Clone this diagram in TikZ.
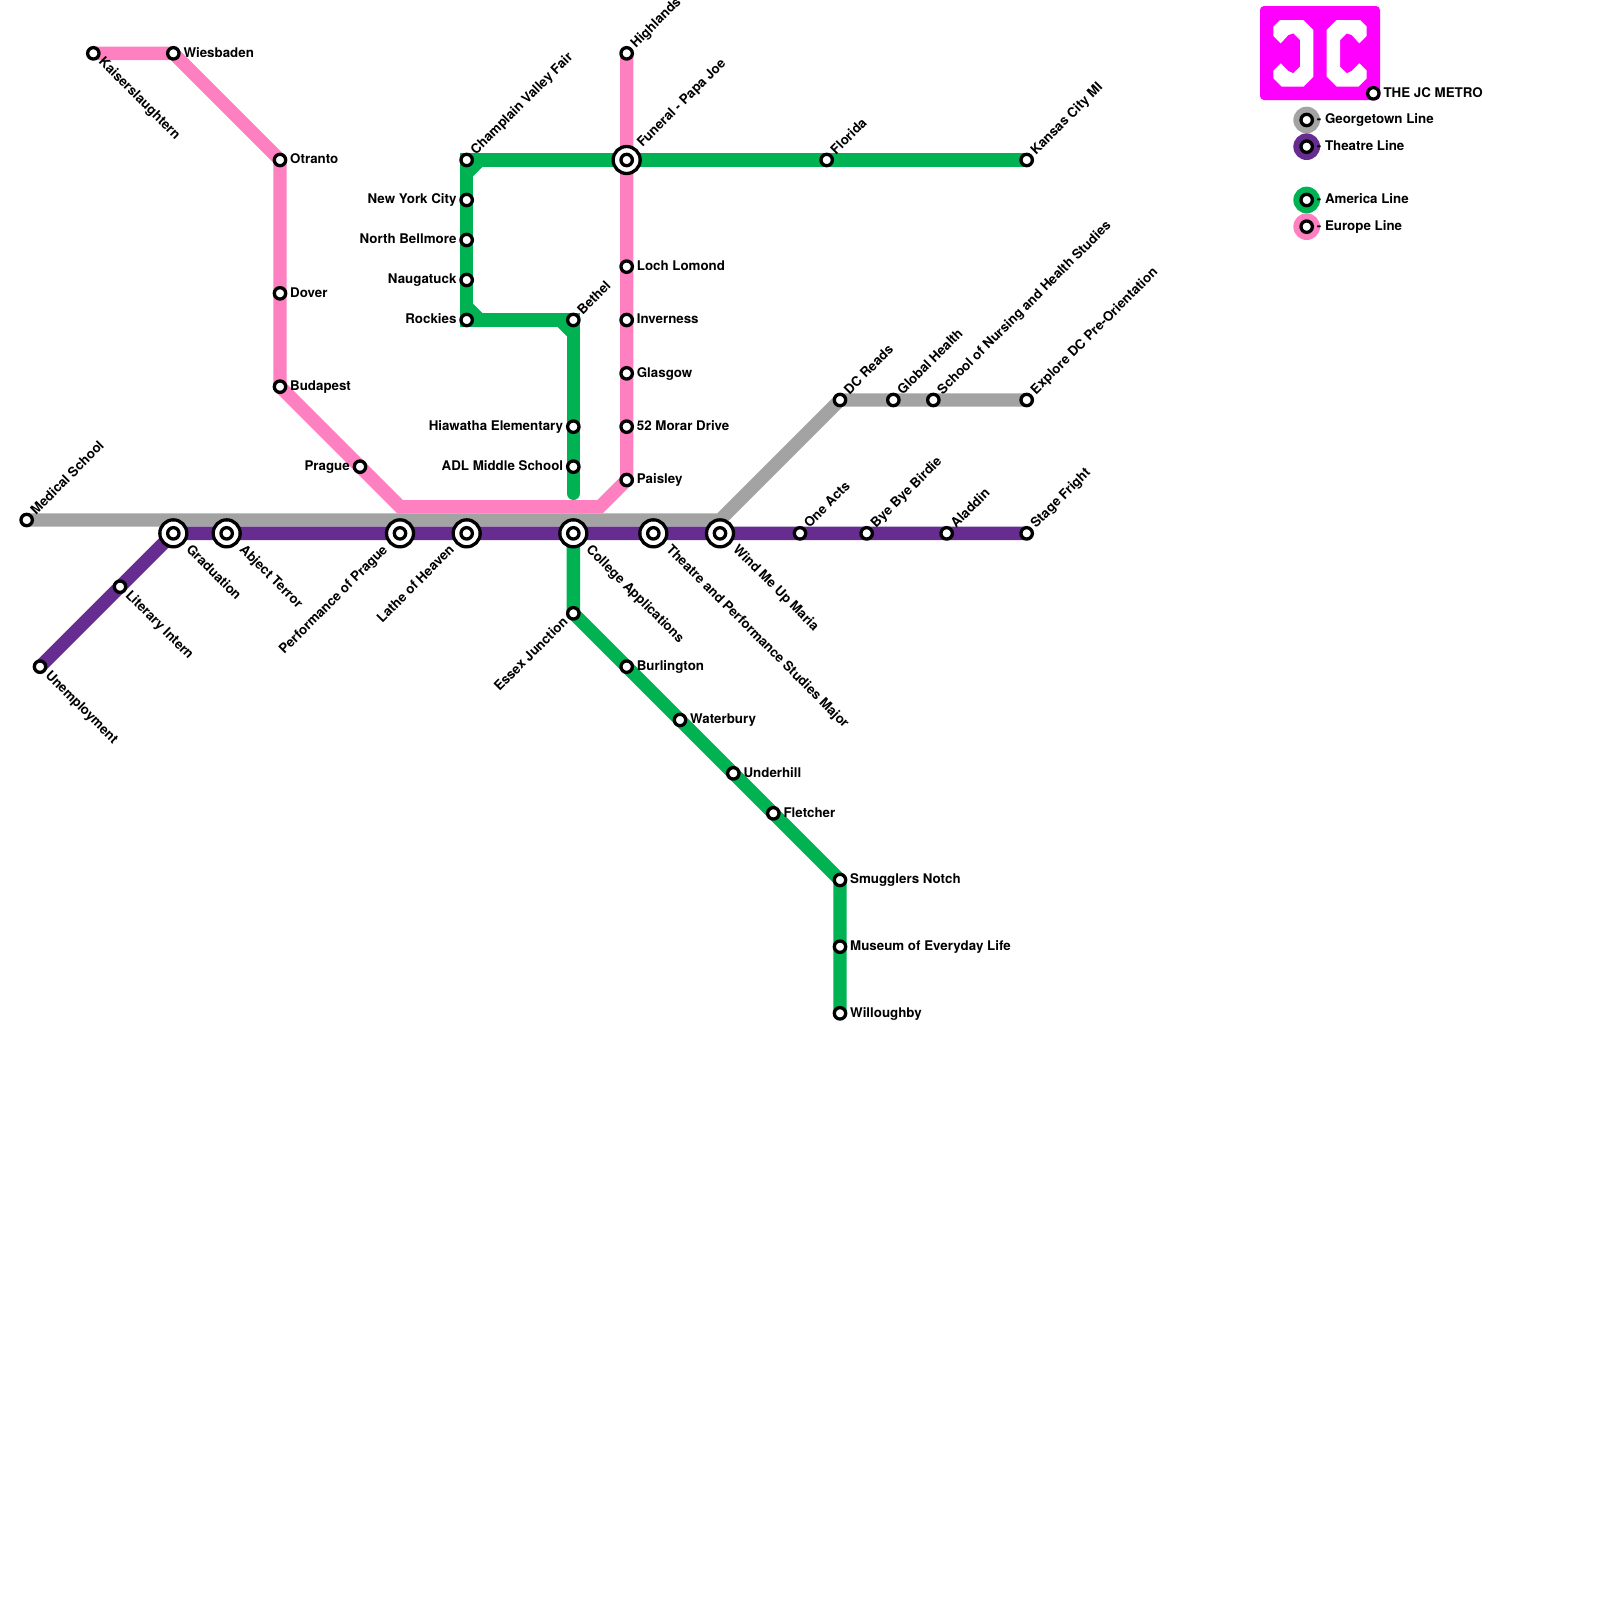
\documentclass[tikz,border=0pt]{standalone}
\usepackage{fontspec}
\setmainfont{TeX Gyre Heros}
\usetikzlibrary{backgrounds}
\definecolor{greyline}{HTML}{A3A3A3}
\definecolor{purpleline}{HTML}{662C90}
\definecolor{greenline}{HTML}{00B251}
\definecolor{pinkline}{HTML}{FF80C0}
\definecolor{logo}{HTML}{FF00FF}
\tikzset{
  stn/.style={circle,draw=black,fill=white,line width=3.3pt,minimum size=11.4pt,inner sep=0pt},
  bigstn/.style={circle,draw=black,fill=white,line width=3.3pt,minimum size=27pt,inner sep=0pt},
  metro/.style={line width=13.33pt,line cap=round,line join=miter},
  lab/.style={font=\bfseries\fontsize{13.33}{13.33}\selectfont,inner sep=0pt,text height=9.5pt,text depth=0pt},
  labr/.style={lab,anchor=west,xshift=10pt,yshift=1pt},
  labl/.style={lab,anchor=east,xshift=-10pt,yshift=1pt},
  labne/.style={lab,xshift=6pt,yshift=8pt,rotate=45,anchor=west},
  labse/.style={lab,xshift=8pt,yshift=-6pt,rotate=-45,anchor=west},
  labsw/.style={lab,xshift=-8pt,yshift=-6pt,rotate=45,anchor=east},
  bigne/.style={lab,xshift=12.5pt,yshift=15.5pt,rotate=45,anchor=west},
  bigse/.style={lab,xshift=15.5pt,yshift=-13.5pt,rotate=-45,anchor=west},
  bigsw/.style={lab,xshift=-15pt,yshift=-14pt,rotate=45,anchor=east},
  legdot/.style={circle,minimum size=26.67pt,inner sep=0pt}
}
\begin{document}
\begin{tikzpicture}[x=13.3333pt,y=-13.3333pt]
  \useasboundingbox (0,0) rectangle (120,120);

  \fill[logo,rounded corners=4pt] (94.5,0.45) rectangle (103.5,7.5);
  \foreach \s/\o in {1/0,-1/198}
    \fill[white,shift={(\o,0)},xscale=\s] (96,1.5) -- (97.75,1.5) -- (98.5,2.25) -- (98.5,5.75)
      -- (97.75,6.5) -- (96.125,6.5) -- (95.5,5.875) -- (95.5,5.3) -- (96.05,4.75) -- (96.625,5.325)
      -- (97,5.5) -- (97.5,5) -- (97.5,3) -- (97,2.5) -- (96.625,2.625) -- (96.05,3.25)
      -- (95.5,2.7) -- (95.5,2) -- cycle;

  \node[stn] (kaiser) at (7,4) {};
  \node[stn] (wiesbaden) at (13,4) {};
  \node[stn] (otranto) at (21,12) {};
  \node[stn] (dover) at (21,22) {};
  \node[stn] (budapest) at (21,29) {};
  \node[stn] (prague) at (27,35) {};
  \node[stn] (highlands) at (47,4) {};
  \node[stn] (loch) at (47,20) {};
  \node[stn] (inverness) at (47,24) {};
  \node[stn] (glasgow) at (47,28) {};
  \node[stn] (morar) at (47,32) {};
  \node[stn] (paisley) at (47,36) {};

  \node[stn] (champlain) at (35,12) {};
  \node[stn] (newyork) at (35,15) {};
  \node[stn] (bellmore) at (35,18) {};
  \node[stn] (naugatuck) at (35,21) {};
  \node[stn] (rockies) at (35,24) {};
  \node[stn] (bethel) at (43,24) {};
  \node[stn] (hiawatha) at (43,32) {};
  \node[stn] (adl) at (43,35) {};
  \node[stn] (florida) at (62,12) {};
  \node[stn] (kansas) at (77,12) {};
  \node[stn] (essex) at (43,46) {};
  \node[stn] (burlington) at (47,50) {};
  \node[stn] (waterbury) at (51,54) {};
  \node[stn] (underhill) at (55,58) {};
  \node[stn] (fletcher) at (58,61) {};
  \node[stn] (smugglers) at (63,66) {};
  \node[stn] (museum) at (63,71) {};
  \node[stn] (willoughby) at (63,76) {};

  \node[stn] (medical) at (2,39) {};
  \node[stn] (dcreads) at (63,30) {};
  \node[stn] (globalh) at (67,30) {};
  \node[stn] (nursing) at (70,30) {};
  \node[stn] (explore) at (77,30) {};

  \node[stn] (unemploy) at (3,50) {};
  \node[stn] (literary) at (9,44) {};
  \node[stn] (oneacts) at (60,40) {};
  \node[stn] (byebye) at (65,40) {};
  \node[stn] (aladdin) at (71,40) {};
  \node[stn] (stage) at (77,40) {};

  \foreach \n/\x/\y in {funeral/47/12,graduation/13/40,abject/17/40,performance/30/40,lathe/35/40,college/43/40,theatre/49/40,wind/54/40}{
    \node[bigstn] (\n) at (\x,\y) {};
    \node[stn] (\n i) at (\n) {};
  }

  \node[stn] (metro) at (103,7) {};

  \coordinate (p1) at (30,38);
  \coordinate (p2) at (45,38);
  \coordinate (g1) at (36,12);
  \coordinate (g2) at (35,13);
  \coordinate (g3) at (35,23);
  \coordinate (g4) at (36,24);
  \coordinate (g5) at (42,24);
  \coordinate (g6) at (43,25);
  \coordinate (g7) at (43,37);
  \coordinate (a1) at (54,39);

  \begin{scope}[on background layer]
    \draw[metro,pinkline] (kaiser.center) -- (wiesbaden.center) -- (otranto.center) -- (budapest.center) -- (p1) -- (p2) -- (paisley.center) -- (highlands.center);
    \draw[metro,greenline] (kansas.center) -- (champlain.center) -- (rockies.center) -- (bethel.center) -- (g7);
    \draw[metro,greenline] (g1) -- (g2);
    \draw[metro,greenline] (g3) -- (g4);
    \draw[metro,greenline] (g5) -- (g6);
    \draw[metro,greenline] (college.center) -- (essex.center) -- (smugglers.center) -- (willoughby.center);
    \draw[metro,greyline] (medical.center) -- (a1) -- (dcreads.center) -- (explore.center);
    \draw[metro,purpleline] (unemploy.center) -- (graduation.center) -- (stage.center);
  \end{scope}

  \node[legdot,fill=greyline] (leggrey) at (98,9) {};
  \node[legdot,fill=purpleline] (legpurple) at (98,11) {};
  \node[legdot,fill=greenline] (leggreen) at (98,15) {};
  \node[legdot,fill=pinkline] (legpink) at (98,17) {};
  \node[stn] (leggreyi) at (leggrey) {};
  \node[stn] (legpurplei) at (legpurple) {};
  \node[stn] (leggreeni) at (leggreen) {};
  \node[stn] (legpinki) at (legpink) {};

  \node[labr] (leggreyt) at (leggrey) {- Georgetown Line};
  \node[labr] (legpurplet) at (legpurple) {- Theatre Line};
  \node[labr] (leggreent) at (leggreen) {- America Line};
  \node[labr] (legpinkt) at (legpink) {- Europe Line};
  \node[labr] (metrot) at (metro) {THE JC METRO};

  \node[labse] (kaisert) at (kaiser) {Kaiserslaughtern};
  \node[labr] (wiesbadent) at (wiesbaden) {Wiesbaden};
  \node[labr] (otrantot) at (otranto) {Otranto};
  \node[labr] (dovert) at (dover) {Dover};
  \node[labr] (budapestt) at (budapest) {Budapest};
  \node[labl] (praguet) at (prague) {Prague};
  \node[labne] (highlandst) at (highlands) {Highlands};
  \node[bigne] (funeralt) at (funeral) {Funeral - Papa Joe};
  \node[labr] (locht) at (loch) {Loch Lomond};
  \node[labr] (invernesst) at (inverness) {Inverness};
  \node[labr] (glasgowt) at (glasgow) {Glasgow};
  \node[labr] (morart) at (morar) {52 Morar Drive};
  \node[labr] (paisleyt) at (paisley) {Paisley};

  \node[labne] (champlaint) at (champlain) {Champlain Valley Fair};
  \node[labl] (newyorkt) at (newyork) {New York City};
  \node[labl] (bellmoret) at (bellmore) {North Bellmore};
  \node[labl] (naugatuckt) at (naugatuck) {Naugatuck};
  \node[labl] (rockiest) at (rockies) {Rockies};
  \node[labne] (bethelt) at (bethel) {Bethel};
  \node[labl] (hiawathat) at (hiawatha) {Hiawatha Elementary};
  \node[labl] (adlt) at (adl) {ADL Middle School};
  \node[labne] (floridat) at (florida) {Florida};
  \node[labne] (kansast) at (kansas) {Kansas City MI};
  \node[labsw] (essext) at (essex) {Essex Junction};
  \node[labr] (burlingtont) at (burlington) {Burlington};
  \node[labr] (waterburyt) at (waterbury) {Waterbury};
  \node[labr] (underhillt) at (underhill) {Underhill};
  \node[labr] (fletchert) at (fletcher) {Fletcher};
  \node[labr] (smugglerst) at (smugglers) {Smugglers Notch};
  \node[labr] (museumt) at (museum) {Museum of Everyday Life};
  \node[labr] (willoughbyt) at (willoughby) {Willoughby};

  \node[labne] (medicalt) at (medical) {Medical School};
  \node[labne] (dcreadst) at (dcreads) {DC Reads};
  \node[labne] (globalht) at (globalh) {Global Health};
  \node[labne] (nursingt) at (nursing) {School of Nursing and Health Studies};
  \node[labne] (exploret) at (explore) {Explore DC Pre-Orientation};

  \node[labse] (unemployt) at (unemploy) {Unemployment};
  \node[labse] (literaryt) at (literary) {Literary Intern};
  \node[bigse] (graduationt) at (graduation) {Graduation};
  \node[bigse] (abjectt) at (abject) {Abject Terror};
  \node[bigsw] (performancet) at (performance) {Performance of Prague};
  \node[bigsw] (lathet) at (lathe) {Lathe of Heaven};
  \node[bigse] (colleget) at (college) {College Applications};
  \node[bigse] (theatret) at (theatre) {Theatre and Performance Studies Major};
  \node[bigse] (windt) at (wind) {Wind Me Up Maria};
  \node[labne] (oneactst) at (oneacts) {One Acts};
  \node[labne] (byebyet) at (byebye) {Bye Bye Birdie};
  \node[labne] (aladdint) at (aladdin) {Aladdin};
  \node[labne] (staget) at (stage) {Stage Fright};
\end{tikzpicture}
\end{document}
